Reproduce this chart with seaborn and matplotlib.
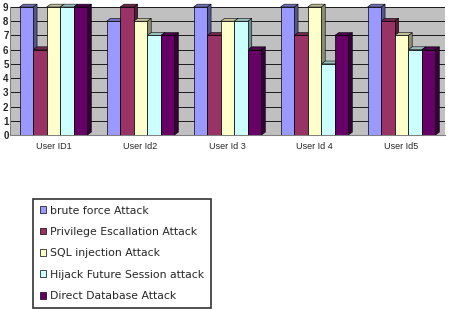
import pandas as pd
import matplotlib.pyplot as plt
import matplotlib.colors as mcolors
from matplotlib.patches import Polygon
import seaborn as sns

users = ['User ID1', 'User Id2', 'User Id 3', 'User Id 4', 'User Id5']
attacks = [
    'brute force Attack',
    'Privilege Escallation Attack',
    'SQL injection Attack',
    'Hijack Future Session attack',
    'Direct Database Attack',
]
brute_force = [9, 8, 9, 9, 9]
privilege = [6, 9, 7, 7, 8]
sql_injection = [9, 8, 8, 9, 7]
hijack = [9, 7, 8, 5, 6]
direct_db = [9, 7, 6, 7, 6]
colors = ['#9999FF', '#993366', '#FFFFCC', '#CCFFFF', '#660066']

series = [brute_force, privilege, sql_injection, hijack, direct_db]
rows = []
for name, vals in zip(attacks, series):
    for u, v in zip(users, vals):
        rows.append({'user': u, 'attack': name, 'value': v})
df = pd.DataFrame(rows)

sns.set_style('white')
plt.rcParams['font.family'] = ['Liberation Sans', 'DejaVu Sans']

fig = plt.figure(figsize=(4.56, 3.10), dpi=100)
ax = fig.add_axes([10 / 456, 1 - 135 / 310, 435 / 456, 128 / 310])
ax.set_facecolor('#C0C0C0')

sns.barplot(data=df, x='user', y='value', hue='attack', palette=colors,
            saturation=1, width=0.78, edgecolor='black', linewidth=0.5,
            ax=ax, zorder=3)

# fake 3D: side and top faces derived from each bar
dx, dy = 0.045, 0.2
for p in list(ax.patches):
    x0, y0 = p.get_x(), p.get_y()
    w, h = p.get_width(), p.get_height()
    if h <= 0:
        continue
    fc = mcolors.to_rgb(p.get_facecolor())
    side = tuple(c * 0.55 for c in fc)
    top = tuple(c * 0.75 for c in fc)
    x1, y1 = x0 + w, y0 + h
    ax.add_patch(Polygon([(x1, y0), (x1 + dx, y0 + dy), (x1 + dx, y1 + dy), (x1, y1)],
                         closed=True, fc=side, ec='black', lw=0.4, zorder=2.9,
                         clip_on=False))
    ax.add_patch(Polygon([(x0, y1), (x0 + dx, y1 + dy), (x1 + dx, y1 + dy), (x1, y1)],
                         closed=True, fc=top, ec='black', lw=0.4, zorder=2.9,
                         clip_on=False))

ax.set_xlim(-0.5, 4.5)
ax.set_ylim(0, 9)
ax.set_yticks(range(0, 10))
ax.yaxis.grid(True, color='black', linewidth=0.6)
ax.set_axisbelow(True)
ax.set_xlabel('')
ax.set_ylabel('')
for s in ['top', 'right']:
    ax.spines[s].set_visible(False)
ax.spines['left'].set_color('#808080')
ax.spines['bottom'].set_color('#808080')
ax.tick_params(axis='y', labelsize=7, pad=1, length=0)
ax.tick_params(axis='x', labelsize=6.5, pad=5, length=0)
for t in ax.get_yticklabels():
    t.set_fontweight('bold')

handles, labels = ax.get_legend_handles_labels()
ax.get_legend().remove()
leg = fig.legend(handles, labels, loc='upper left',
                 bbox_to_anchor=(33 / 456, 1 - 199 / 310),
                 prop={'family': 'DejaVu Sans', 'size': 7.8},
                 handlelength=0.6, handleheight=0.6,
                 handletextpad=0.4, labelspacing=1.05, borderpad=0.6,
                 borderaxespad=0, frameon=True, fancybox=False)
leg.get_frame().set_edgecolor('black')
leg.get_frame().set_linewidth(1.2)

fig.savefig('out.png', dpi=100)
